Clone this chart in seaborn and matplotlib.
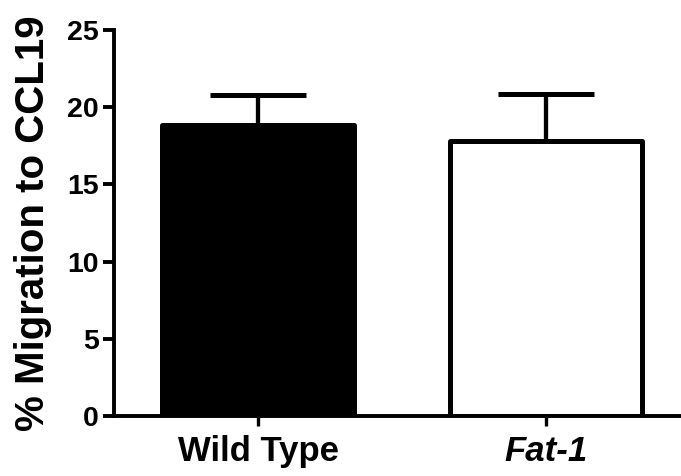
import matplotlib
matplotlib.use("Agg")
import matplotlib.pyplot as plt
import seaborn as sns
import pandas as pd
import numpy as np

groups = ["Wild Type", "Fat-1"]
means = [18.85, 17.8]
sems = [1.95, 3.05]
colors = ["black", "white"]

sns.set_theme(style="ticks", rc={"text.color": "black", "axes.labelcolor": "black",
                                  "xtick.color": "black", "ytick.color": "black",
                                  "axes.edgecolor": "black"})
plt.rcParams["font.family"] = ["Liberation Sans", "DejaVu Sans"]
plt.rcParams["font.weight"] = "bold"

df = pd.DataFrame({"group": groups, "value": means})

fig = plt.figure(figsize=(6.81, 4.76), dpi=100)
ax = fig.add_axes([114 / 681, 60 / 476, 605 / 681, 386 / 476])

# error bars (upper only), drawn behind bars
ax.errorbar(np.arange(len(groups)), means, yerr=[np.zeros(len(sems)), sems],
            fmt="none", ecolor="black", elinewidth=3.1, capsize=34.5,
            capthick=3.6, zorder=1)

sns.barplot(data=df, x="group", y="value", hue="group", palette=colors,
            legend=False, width=0.665, edgecolor="black", linewidth=3.6,
            ax=ax, zorder=2)
for p in ax.patches:
    p.set_joinstyle("round")

ax.set_xlim(-0.5, 1.6)
ax.set_ylim(0, 25)
ax.set_yticks([0, 5, 10, 15, 20, 25])
sns.despine(ax=ax)
for s in ["left", "bottom"]:
    ax.spines[s].set_linewidth(2.8)
    ax.spines[s].set_capstyle("projecting")
    ax.spines[s].set_color("black")

ax.tick_params(axis="y", length=8, width=2.8, pad=3, labelsize=20.5, colors="black")
ax.tick_params(axis="x", length=7.5, width=2.4, pad=6, labelsize=25, colors="black")
for lab in ax.get_xticklabels():
    lab.set_fontweight("bold")
    if lab.get_text() == "Fat-1":
        lab.set_fontstyle("italic")
for lab in ax.get_yticklabels():
    lab.set_fontweight("bold")

ax.set_xlabel("")
ax.set_ylabel("% Migration to CCL19", fontsize=29, fontweight="bold", labelpad=11,
              color="black")

fig.savefig("out.png", dpi=100)
